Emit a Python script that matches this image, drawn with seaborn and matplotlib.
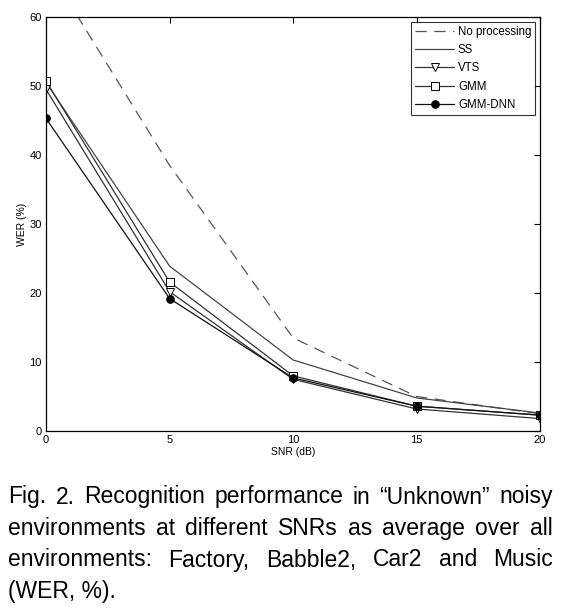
import matplotlib
matplotlib.use("Agg")
import matplotlib.pyplot as plt
import numpy as np
import pandas as pd
import seaborn as sns

snr = [0, 5, 10, 15, 20]
no_processing = [67.5, 38.5, 13.5, 5.0, 2.5]
ss = [50.5, 23.9, 10.3, 4.8, 2.6]
vts = [49.5, 20.2, 7.5, 3.2, 1.8]
gmm = [50.7, 21.6, 8.0, 3.6, 2.3]
gmm_dnn = [45.3, 19.2, 7.7, 3.6, 2.3]

names = ["No processing", "SS", "VTS", "GMM", "GMM-DNN"]
caption = [
    "Fig. 2. Recognition performance in \u201cUnknown\u201d noisy",
    "environments  at different SNRs as average over all",
    "environments: Factory, Babble2, Car2 and Music",
    "(WER, %).",
]

df = pd.DataFrame({"SNR": snr * 5,
                   "WER": no_processing + ss + vts + gmm + gmm_dnn,
                   "method": sum([[n] * 5 for n in names], [])})

sns.set_style("white")
plt.rcParams["font.family"] = ["Liberation Sans", "DejaVu Sans"]
plt.rcParams["text.color"] = "black"
plt.rcParams["axes.labelcolor"] = "black"
plt.rcParams["xtick.color"] = "black"
plt.rcParams["ytick.color"] = "black"

fig = plt.figure(figsize=(5.62, 6.10), dpi=100)
ax = fig.add_axes([0.082, 0.2934, 0.879, 0.6787])

styles = {
    "No processing": dict(ls=(0, (9, 6)), marker=None, mfc="none", color="#555555"),
    "SS": dict(ls="-", marker=None, mfc="none", color="#444444"),
    "VTS": dict(ls="-", marker="v", mfc="white", color="#333333"),
    "GMM": dict(ls="-", marker="s", mfc="white", color="#333333"),
    "GMM-DNN": dict(ls="-", marker="o", mfc="black", color="#111111"),
}
for n in names:
    st = styles[n]
    sns.lineplot(data=df[df.method == n], x="SNR", y="WER", ax=ax, label=n,
                 color=st["color"], linestyle=st["ls"], marker=st["marker"],
                 markersize=5.5, markerfacecolor=st["mfc"], markeredgecolor="black",
                 markeredgewidth=0.7, linewidth=0.9)

ax.set_xlim(0, 20)
ax.set_ylim(0, 60)
ax.set_xticks(snr)
ax.set_yticks(range(0, 61, 10))
ax.tick_params(direction="in", length=4, labelsize=8, top=True, right=True,
               labeltop=False, labelright=False, width=0.8, pad=3)
for s in ax.spines.values():
    s.set_linewidth(0.9)
    s.set_color("black")
ax.set_xlabel("SNR (dB)", fontsize=7.5, labelpad=1)
ax.set_ylabel("WER (%)", fontsize=7.5, labelpad=2)

leg = ax.legend(loc="upper right", fontsize=8.3, frameon=True, fancybox=False,
                edgecolor="black", borderpad=0.35, labelspacing=0.55,
                handlelength=3.4, handletextpad=0.3, borderaxespad=0.4)
leg.get_frame().set_linewidth(0.8)

# justified caption, font sized so the first line fits the width
fig.canvas.draw()
renderer = fig.canvas.get_renderer()
left_px, right_px = 8, 553
W, H = 562, 610
probe = fig.text(0, 0, caption[0], fontsize=10)
fs = 10 * (right_px - left_px) / probe.get_window_extent(renderer).width * 0.97
probe.remove()

y0 = 497
step = 31.5
for i, line in enumerate(caption):
    ypx = y0 + i * step
    words = line.split()
    if i == len(caption) - 1:
        fig.text(left_px / W, 1 - ypx / H, line, fontsize=fs, va="center", ha="left")
        continue
    texts = [fig.text(0, 1 - ypx / H, w, fontsize=fs, va="center", ha="left") for w in words]
    widths = [t.get_window_extent(renderer).width for t in texts]
    gap = (right_px - left_px - sum(widths)) / (len(words) - 1)
    x = left_px
    for t, w in zip(texts, widths):
        t.set_x(x / W)
        x += w + gap

fig.savefig("out.png", dpi=100)
